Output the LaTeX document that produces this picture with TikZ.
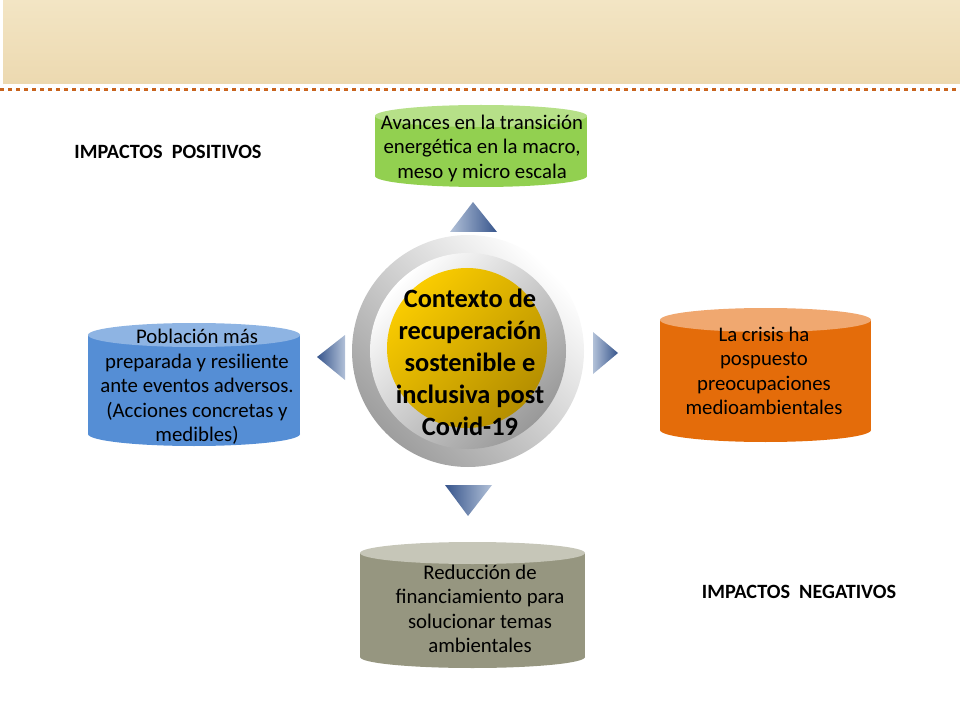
\documentclass[tikz,border=0pt]{standalone}
\usepackage{fontspec}
\setmainfont{Carlito}
\usetikzlibrary{positioning}

\definecolor{bannerA}{RGB}{243,229,196}
\definecolor{bannerB}{RGB}{236,217,176}
\definecolor{dotorange}{RGB}{200,100,30}
\definecolor{greenbody}{RGB}{146,208,80}
\definecolor{greentop}{RGB}{182,224,136}
\definecolor{bluebody}{RGB}{85,142,213}
\definecolor{bluetop}{RGB}{142,180,227}
\definecolor{orangebody}{RGB}{228,108,10}
\definecolor{orangetop}{RGB}{240,168,112}
\definecolor{graybody}{RGB}{150,150,128}
\definecolor{graytop}{RGB}{198,198,184}
\definecolor{triadark}{RGB}{55,85,140}
\definecolor{trialight}{RGB}{178,193,216}
\definecolor{goldlight}{RGB}{250,204,0}
\definecolor{golddark}{RGB}{180,142,0}

\begin{document}
\begin{tikzpicture}[
  x=0.75pt, y=-0.75pt,
  cyltext/.style={align=center, font=\fontsize{15.6}{18.4}\selectfont},
  centertext/.style={align=center, font=\bfseries\fontsize{19.8}{24}\selectfont},
  impacto/.style={font=\bfseries\fontsize{15.2}{16}\selectfont}
]
\useasboundingbox (0,0) rectangle (960,720);

% Banner and dotted rule
\shade[top color=bannerA, bottom color=bannerB] (3,0) rectangle (960,84);
\draw[dotorange, line width=2.6pt, dash pattern=on 3pt off 3pt] (0,89.5) -- (960,89.5);

% Cylinders (body, bottom end, top end)
\fill[greenbody] (375,116) rectangle (587,176);
\fill[greenbody] (481,176) ellipse [x radius=106, y radius=11];
\fill[greentop] (481,116) ellipse [x radius=106, y radius=11];

\fill[bluebody] (88,335) rectangle (300,434);
\fill[bluebody] (194,434) ellipse [x radius=106, y radius=12];
\fill[bluetop] (194,335) ellipse [x radius=106, y radius=12];

\fill[orangebody] (660,320) rectangle (871,430);
\fill[orangebody] (765.5,430) ellipse [x radius=105.5, y radius=12];
\fill[orangetop] (765.5,320) ellipse [x radius=105.5, y radius=12];

\fill[graybody] (360,553) rectangle (585,657);
\fill[graybody] (472.5,657) ellipse [x radius=112.5, y radius=11];
\fill[graytop] (472.5,553) ellipse [x radius=112.5, y radius=11];

% Pointers
\shade[left color=trialight, right color=triadark] (473,202) -- (497,232) -- (450,232) -- cycle;
\shade[left color=triadark, right color=trialight] (317,357) -- (345,335) -- (345,380) -- cycle;
\shade[left color=trialight, right color=triadark] (618,353) -- (593,374) -- (593,332) -- cycle;
\shade[left color=triadark, right color=trialight] (468,516) -- (445,485) -- (492,485) -- cycle;

% Central ring
\shade[top color=white, bottom color=black!38, shading angle=-45] (468,351) circle [radius=116];
\shade[top color=white, bottom color=black!40, shading angle=45] (468,351) circle [radius=98];
\shade[top color=goldlight, bottom color=golddark, shading angle=45] (467,348) circle [radius=80];

% Texts
\node[centertext] (contexto) at (470,362) {Contexto de\\recuperación\\sostenible e\\inclusiva post\\Covid-19};
\node[cyltext] (avances) at (482,148) {Avances en la transición\\energética en la macro,\\meso y micro escala};
\node[cyltext] (poblacion) at (197,387) {Población más\\preparada y resiliente\\ante eventos adversos.\\(Acciones concretas y\\medibles)};
\node[cyltext] (crisis) at (764,371) {La crisis ha\\pospuesto\\preocupaciones\\medioambientales};
\node[cyltext] (reduccion) at (480,609) {Reducción de\\financiamiento para\\solucionar temas\\ambientales};

\node[impacto] (positivos) at (168,152) {IMPACTOS\ \ POSITIVOS};
\node[impacto] (negativos) at (799,592) {IMPACTOS\ \ NEGATIVOS};

\end{tikzpicture}
\end{document}
